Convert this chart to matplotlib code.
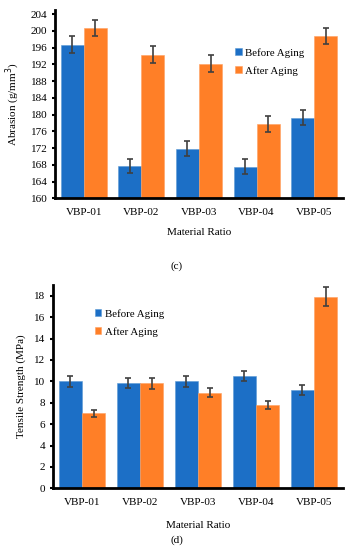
import matplotlib.pyplot as plt
import numpy as np

# data
ratios = ['VBP-01', 'VBP-02', 'VBP-03', 'VBP-04', 'VBP-05']

abr_before = [196.7, 167.8, 171.9, 167.5, 179.3]
abr_after = [200.7, 194.3, 192.2, 177.7, 198.8]
abr_before_err = [2.0, 1.7, 1.8, 1.8, 1.9]
abr_after_err = [2.0, 2.0, 2.0, 1.9, 2.0]

ts_before = [10.0, 9.85, 10.0, 10.5, 9.2]
ts_after = [7.0, 9.8, 8.95, 7.8, 17.9]
ts_before_err = [0.5, 0.5, 0.5, 0.5, 0.45]
ts_after_err = [0.35, 0.5, 0.45, 0.4, 0.9]

blue = '#1c6fc6'
orange = '#ff7f27'
plt.rcParams['font.family'] = ['Liberation Serif', 'DejaVu Serif']
plt.rcParams['font.size'] = 8

W, H = 353, 550
fig = plt.figure(figsize=(W / 100, H / 100), dpi=100)


def panel(rect, before, after, e1, e2, ylim, yticks, ylabel, leg_xy, pad):
    ax = fig.add_axes(rect)
    x = np.arange(len(ratios))
    w = 0.4
    ekw = dict(ecolor='#404040', elinewidth=1.2, capsize=2.2, capthick=1.2)
    ax.bar(x - w / 2, before, w, color=blue, edgecolor='#5b9bd5', linewidth=0.4,
           yerr=e1, error_kw=ekw, label='Before Aging')
    ax.bar(x + w / 2, after, w, color=orange, edgecolor='#ffa060', linewidth=0.4,
           yerr=e2, error_kw=ekw, label='After Aging')
    ax.set_xlim(-0.5, len(ratios) - 0.5)
    ax.set_ylim(*ylim)
    ax.set_yticks(yticks)
    ax.set_xticks(x)
    ax.set_xticklabels(ratios)
    ax.tick_params(axis='x', length=0, pad=7)
    ax.tick_params(axis='y', length=2.5, width=1.5, direction='out', pad=3)
    for s in ['top', 'right']:
        ax.spines[s].set_visible(False)
    for s in ['left', 'bottom']:
        ax.spines[s].set_linewidth(2)
    ax.set_ylabel(ylabel, labelpad=6)
    ax.set_xlabel('Material Ratio', labelpad=pad)
    ax.legend(loc='upper left', bbox_to_anchor=(leg_xy[0] / W, 1 - leg_xy[1] / H),
              bbox_transform=fig.transFigure, frameon=False, fontsize=7.8,
              handlelength=0.6, handleheight=0.6, handletextpad=0.3, labelspacing=0.75,
              borderaxespad=0, borderpad=0)
    return ax


panel([55 / W, 1 - 198.3 / H, 288 / W, 188.3 / H], abr_before, abr_after,
      abr_before_err, abr_after_err, (160, 205), np.arange(160, 205, 4),
      'Abrasion (g/mm$^3$)', (235, 48), 8)
panel([53 / W, 1 - 488.3 / H, 290 / W, 203.3 / H], ts_before, ts_after,
      ts_before_err, ts_after_err, (0, 19), np.arange(0, 19, 2),
      'Tensile Strength (MPa)', (95, 309), 10)

fig.text(177 / W, 1 - 266 / H, '(c)', ha='center', va='center', fontsize=8)
fig.text(177 / W, 1 - 540 / H, '(d)', ha='center', va='center', fontsize=8)

fig.savefig('out.png', dpi=100)
